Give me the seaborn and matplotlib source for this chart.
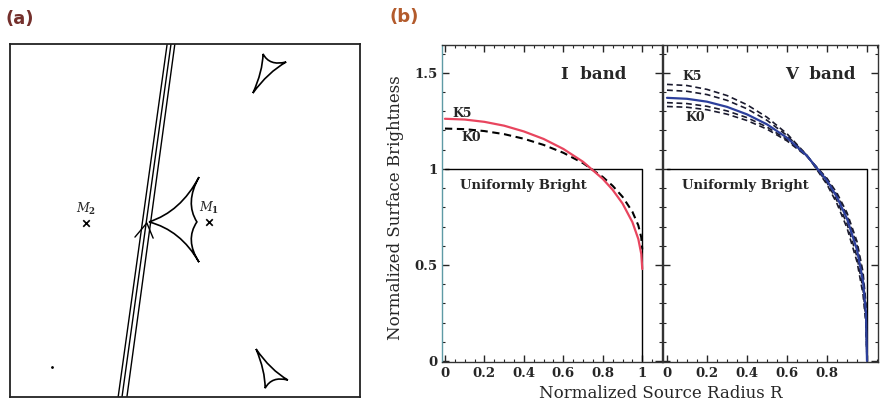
import matplotlib.pyplot as plt
import seaborn as sns
from matplotlib.path import Path
from matplotlib.patches import PathPatch

sns.set_style("white")
plt.rcParams['font.family'] = ['DejaVu Serif']
plt.rcParams['mathtext.fontset'] = 'dejavuserif'

# (b) normalized radius vs surface brightness
radius = [0, 0.1, 0.2, 0.3, 0.4, 0.5, 0.6, 0.7, 0.8, 0.85, 0.9, 0.95, 0.98, 0.995, 1.0]
i_k5 = [1.261, 1.257, 1.245, 1.225, 1.195, 1.156, 1.104, 1.037, 0.948, 0.891, 0.820, 0.723, 0.635, 0.557, 0.479]
i_k0 = [1.210, 1.207, 1.197, 1.181, 1.157, 1.125, 1.084, 1.030, 0.958, 0.912, 0.855, 0.777, 0.706, 0.643, 0.581]
v_solid = [1.370, 1.365, 1.350, 1.323, 1.284, 1.232, 1.162, 1.068, 0.939, 0.853, 0.741, 0.579, 0.415, 0.249, 0.0]
v_k5a = [1.440, 1.434, 1.414, 1.382, 1.334, 1.269, 1.183, 1.071, 0.919, 0.819, 0.693, 0.517, 0.348, 0.190, 0.0]
v_k5b = [1.410, 1.404, 1.387, 1.357, 1.313, 1.253, 1.174, 1.070, 0.928, 0.834, 0.714, 0.543, 0.375, 0.213, 0.0]
v_k0a = [1.345, 1.340, 1.326, 1.302, 1.267, 1.218, 1.153, 1.066, 0.946, 0.864, 0.758, 0.602, 0.442, 0.274, 0.0]
v_k0b = [1.325, 1.321, 1.308, 1.285, 1.252, 1.207, 1.146, 1.065, 0.951, 0.874, 0.772, 0.622, 0.464, 0.297, 0.0]
uniform_r = [0, 1, 1]
uniform_i = [1, 1, 0]

x_ticks = [0, 0.2, 0.4, 0.6, 0.8, 1]
x_labels = ['0', '0.2', '0.4', '0.6', '0.8', '1']
y_ticks = [0, 0.5, 1, 1.5]
y_labels = ['0', '0.5', '1', '1.5']

# (a) lens plane sketch (box coords 0..100)
traj_bottom = [30.9, 32.0, 33.4]
traj_top = [44.9, 46.0, 47.1]
central_cusps = [(39.7, 49.6), (54.0, 62.3), (53.4, 49.6), (54.0, 38.2)]
central_ctrl = [(48.75, 52.45), (49.9, 55.05), (49.9, 44.5), (48.75, 47.3)]
upper_cusps = [(72.3, 97.2), (78.9, 94.9), (69.4, 86.1)]
upper_ctrl = [(74.1, 93.7), (73.7, 92.0), (72.2, 92.2)]
lower_cusps = [(70.3, 13.6), (79.4, 4.8), (72.9, 2.5)]
lower_ctrl = [(74.4, 7.66), (74.8, 6.0), (72.9, 7.5)]
arrow_x = [35.7, 39.1, 40.9]
arrow_y = [45.3, 49.3, 45.0]
lens_x = [56.9, 21.7]
lens_y = [49.6, 49.3]
lens_names = ['$\\mathbf{\\mathit{M}_1}$', '$\\mathbf{\\mathit{M}_2}$']


def caustic_path(cusps, ctrls):
    verts = [cusps[0]]
    codes = [Path.MOVETO]
    for k in range(len(cusps)):
        verts += [ctrls[k], cusps[(k + 1) % len(cusps)]]
        codes += [Path.CURVE3, Path.CURVE3]
    return Path(verts, codes)


fig = plt.figure(figsize=(8.81, 4.08), dpi=100)

# ---- 패널 (a)
ax_a = fig.add_axes([10 / 881, 11 / 408, 350 / 881, 353 / 408])
for xb, xt in zip(traj_bottom, traj_top):
    sns.lineplot(x=[xb, xt], y=[0, 100], ax=ax_a, color='k', lw=1.0,
                 sort=False, estimator=None)
for cusps, ctrls in [(central_cusps, central_ctrl), (upper_cusps, upper_ctrl),
                     (lower_cusps, lower_ctrl)]:
    ax_a.add_patch(PathPatch(caustic_path(cusps, ctrls), fill=False, lw=1.2, ec='k'))
sns.lineplot(x=arrow_x, y=arrow_y, ax=ax_a, color='k', lw=1.0, sort=False, estimator=None)
sns.scatterplot(x=lens_x, y=lens_y, ax=ax_a, marker='x', color='k', s=22, linewidth=1.2)
for lx, ly, name in zip(lens_x, lens_y, lens_names):
    ax_a.text(lx, ly + 1.8, name, ha='center', va='bottom', fontsize=9)
ax_a.plot([12.0], [8.5], 'k.', ms=2)
ax_a.set_xlim(0, 100)
ax_a.set_ylim(0, 100)
ax_a.set_xticks([])
ax_a.set_yticks([])
for sp in ax_a.spines.values():
    sp.set_color('#222222')
    sp.set_linewidth(1.3)

fig.text(20 / 881, 1 - 19 / 408, '(a)', ha='center', va='center', fontsize=13,
         fontweight='bold', color='#74302c', family='DejaVu Sans')
fig.text(404 / 881, 1 - 17 / 408, '(b)', ha='center', va='center', fontsize=13,
         fontweight='bold', color='#b35b2c', family='DejaVu Sans')

# ---- 패널 (b): I band / V band
ax_i = fig.add_axes([442 / 881, 46 / 408, 220 / 881, 317 / 408])
ax_v = fig.add_axes([663 / 881, 46 / 408, 215 / 881, 317 / 408])

dash = (0, (3.5, 2.2))
sns.lineplot(x=uniform_r, y=uniform_i, ax=ax_i, color='k', lw=1.0, sort=False, estimator=None)
sns.lineplot(x=radius, y=i_k0, ax=ax_i, color='k', lw=1.5, linestyle=dash, sort=False, estimator=None)
sns.lineplot(x=radius, y=i_k5, ax=ax_i, color='#e8455e', lw=1.6, sort=False, estimator=None)

sns.lineplot(x=uniform_r, y=uniform_i, ax=ax_v, color='k', lw=1.0, sort=False, estimator=None)
for vals in [v_k5a, v_k5b, v_k0a, v_k0b]:
    sns.lineplot(x=radius, y=vals, ax=ax_v, color='#1a1a2e', lw=1.2, linestyle=dash,
                 sort=False, estimator=None)
sns.lineplot(x=radius, y=v_solid, ax=ax_v, color='#2c3f9c', lw=1.6, sort=False, estimator=None)

ax_i.text(0.59, 1.47, 'I  band', fontsize=12, fontweight='bold')
ax_v.text(0.59, 1.47, 'V  band', fontsize=12, fontweight='bold')
ax_i.text(0.04, 1.29, 'K5', fontsize=9, fontweight='bold', va='center')
ax_i.text(0.085, 1.165, 'K0', fontsize=9, fontweight='bold', va='center')
ax_v.text(0.075, 1.48, 'K5', fontsize=9, fontweight='bold', va='center')
ax_v.text(0.09, 1.27, 'K0', fontsize=9, fontweight='bold', va='center')
for ax in (ax_i, ax_v):
    ax.text(0.075, 0.915, 'Uniformly Bright', fontsize=9.5, fontweight='bold', va='center')

ax_i.set_xlim(-0.015, 1.10)
ax_v.set_xlim(-0.02, 1.055)
for ax in (ax_i, ax_v):
    ax.set_ylim(-0.005, 1.645)
    ax.set_xticks(x_ticks)
    ax.set_yticks(y_ticks)
    ax.set_xticks([t / 20 for t in range(0, 22)], minor=True)
    ax.set_yticks([t / 10 for t in range(0, 17)], minor=True)
    ax.tick_params(which='both', direction='in', top=True, right=True, bottom=True, left=True)
    ax.tick_params(which='major', length=5, width=1.0, labelsize=9.5)
    ax.tick_params(which='minor', length=2.5, width=0.8)
    ax.set_xlabel('')
    ax.set_ylabel('')
    for sp in ax.spines.values():
        sp.set_color('#333333')
        sp.set_linewidth(1.0)
ax_i.spines['left'].set_color('#5e9aa5')
ax_i.set_xticklabels(x_labels, fontweight='bold')
ax_i.set_yticklabels(y_labels, fontweight='bold')
ax_v.set_xticklabels(x_labels[:-1] + [''], fontweight='bold')
ax_v.set_yticklabels([])

fig.text(395 / 881, 0.49, 'Normalized Surface Brightness', rotation=90, ha='center',
         va='center', fontsize=12)
fig.text(661 / 881, 1 - 393 / 408, 'Normalized Source Radius R', ha='center',
         va='center', fontsize=12)

fig.savefig('out.png', dpi=100)
